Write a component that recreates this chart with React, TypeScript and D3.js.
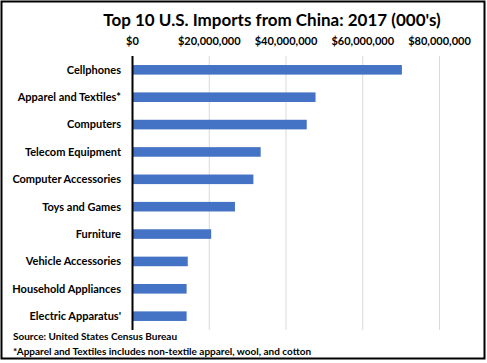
import { useEffect, useRef } from 'react';
import * as d3 from 'd3';

const categories = [
  'Cellphones',
  'Apparel and Textiles*',
  'Computers',
  'Telecom Equipment',
  'Computer Accessories',
  'Toys and Games',
  'Furniture',
  'Vehicle Accessories',
  'Household Appliances',
  "Electric Apparatus'",
];
const values = [70200000, 47700000, 45400000, 33400000, 31500000, 26700000, 20500000, 14400000, 14100000, 14100000];
const ticks = [0, 20000000, 40000000, 60000000, 80000000];
const footnotes = [
  'Source: United States Census Bureau',
  '*Apparel and Textiles includes non-textile apparel, wool, and cotton',
];

export default function App() {
  const svgRef = useRef<SVGSVGElement>(null);

  useEffect(() => {
    if (!svgRef.current) return;
    const width = 487;
    const height = 363;
    const font = 'Lato, "Open Sans", sans-serif';

    const svg = d3.select(svgRef.current);
    svg.selectAll('*').remove();
    svg.attr('width', width).attr('height', height);

    svg.append('rect')
      .attr('width', width).attr('height', height).attr('fill', '#fff');
    // frame
    svg.append('rect')
      .attr('x', 1.5).attr('y', 1.5)
      .attr('width', 483).attr('height', 357)
      .attr('fill', 'none').attr('stroke', '#000').attr('stroke-width', 2);

    const x = d3.scaleLinear().domain([0, 80000000]).range([132.5, 439.5]);
    const y = d3.scaleBand().domain(categories).range([56, 330]).paddingInner(0.65).paddingOuter(0.33);

    // title
    svg.append('text')
      .attr('x', 272).attr('y', 26)
      .attr('text-anchor', 'middle')
      .attr('font-family', font).attr('font-weight', 'bold').attr('font-size', '17px')
      .attr('fill', '#000')
      .text("Top 10 U.S. Imports from China: 2017 (000's)");

    // gridlines
    svg.append('g').selectAll('line')
      .data(ticks.slice(1))
      .join('line')
      .attr('x1', d => x(d)).attr('x2', d => x(d))
      .attr('y1', 56).attr('y2', 330)
      .attr('stroke', '#d9d9d9').attr('stroke-width', 1);

    // tick labels
    const fmt = d3.format('$,');
    svg.append('g').selectAll('text')
      .data(ticks)
      .join('text')
      .attr('x', d => x(d)).attr('y', 45)
      .attr('text-anchor', 'middle')
      .attr('font-family', font).attr('font-weight', 'bold').attr('font-size', '11px')
      .attr('fill', '#000')
      .text(d => fmt(d));

    // bars
    svg.append('g').selectAll('rect')
      .data(values)
      .join('rect')
      .attr('x', x(0))
      .attr('y', (d, i) => y(categories[i])!)
      .attr('width', d => x(d) - x(0))
      .attr('height', y.bandwidth())
      .attr('fill', '#4472c4');

    // category axis line
    svg.append('line')
      .attr('x1', x(0)).attr('x2', x(0))
      .attr('y1', 56).attr('y2', 330)
      .attr('stroke', '#000').attr('stroke-width', 2);

    // category labels
    svg.append('g').selectAll('text')
      .data(categories)
      .join('text')
      .attr('x', 121)
      .attr('y', d => y(d)! + y.bandwidth() / 2)
      .attr('dy', '0.35em')
      .attr('text-anchor', 'end')
      .attr('font-family', font).attr('font-weight', 'bold').attr('font-size', '11px')
      .attr('fill', '#000')
      .text(d => d);

    // footnotes
    svg.append('g').selectAll('text')
      .data(footnotes)
      .join('text')
      .attr('x', 13)
      .attr('y', (d, i) => 340 + i * 15)
      .attr('font-family', font).attr('font-weight', 'bold').attr('font-size', '10px')
      .attr('fill', '#000')
      .text(d => d);
  }, []);

  return (
    <svg
      ref={svgRef}
      style={{ position: 'absolute', left: 0, top: 0, display: 'block' }}
    />
  );
}
